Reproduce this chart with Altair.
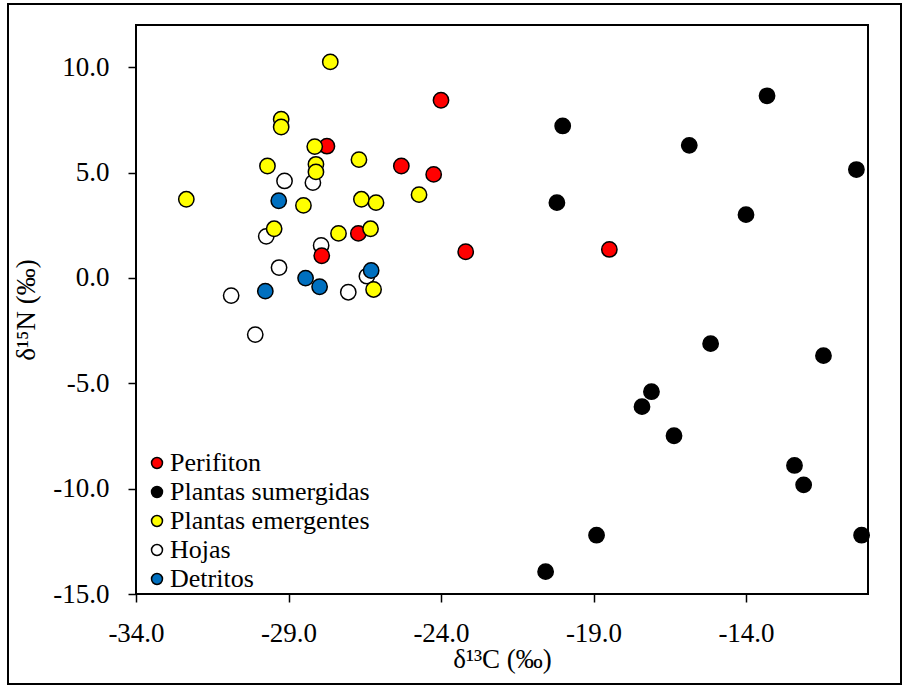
import altair as alt
import pandas as pd

# ---- data ----
groups = ["Perifiton", "Plantas sumergidas", "Plantas emergentes", "Hojas", "Detritos"]
colors = ["#FF0000", "#000000", "#FFFF00", "#FFFFFF", "#0070C0"]

peri_c = [-24.0, -27.74, -25.3, -24.24, -26.71, -27.91, -23.19, -18.48]
peri_n = [8.43, 6.25, 5.31, 4.91, 2.11, 1.05, 1.24, 1.35]

sub_c = [-20.01, -13.31, -15.86, -10.38, -20.2, -14.0, -15.16, -11.46, -17.1, -17.41,
         -16.36, -12.41, -12.11, -18.9, -10.21, -20.57]
sub_n = [7.21, 8.64, 6.29, 5.14, 3.57, 3.0, -3.12, -3.69, -5.4, -6.11,
         -7.49, -8.9, -9.82, -12.21, -12.21, -13.94]

emer_c = [-27.63, -29.24, -29.24, -28.14, -29.69, -28.1, -28.1, -26.69, -24.72, -32.35,
          -28.51, -26.61, -26.13, -29.47, -27.36, -26.31, -26.21]
emer_n = [10.25, 7.53, 7.16, 6.23, 5.31, 5.39, 5.03, 5.61, 3.95, 3.73,
          3.44, 3.73, 3.57, 2.33, 2.11, 2.33, -0.55]

hoja_c = [-29.13, -28.2, -29.73, -27.93, -29.31, -30.88, -27.04, -26.43, -30.09]
hoja_n = [4.6, 4.52, 1.97, 1.54, 0.49, -0.84, -0.68, 0.08, -2.69]

detr_c = [-29.32, -26.29, -28.44, -27.98, -29.76]
detr_n = [3.66, 0.35, -0.01, -0.42, -0.63]

x_ticks = [-34, -29, -24, -19, -14]
y_ticks = [-15, -10, -5, 0, 5, 10]

# draw order: Hojas, Perifiton, sumergidas, emergentes, Detritos
draw_rank = {"Hojas": 0, "Perifiton": 1, "Plantas sumergidas": 2,
             "Plantas emergentes": 3, "Detritos": 4}

rows = []
for g, xs, ys in [("Perifiton", peri_c, peri_n),
                  ("Plantas sumergidas", sub_c, sub_n),
                  ("Plantas emergentes", emer_c, emer_n),
                  ("Hojas", hoja_c, hoja_n),
                  ("Detritos", detr_c, detr_n)]:
    for xv, yv in zip(xs, ys):
        rows.append({"grupo": g, "c13": xv, "n15": yv, "rank": draw_rank[g]})
df = pd.DataFrame(rows).sort_values("rank", kind="stable")

FONT = "Liberation Serif"

points = alt.Chart(df).mark_point(
    shape="circle", filled=True, size=235, stroke="black", strokeWidth=1.5,
    opacity=1, clip=False
).encode(
    x=alt.X("c13:Q",
            scale=alt.Scale(domain=[-34, -10], nice=False, zero=False),
            axis=alt.Axis(values=x_ticks, format=".1f",
                          labelExpr="replace(datum.label, '\u2212', '-')",
                          title="δ¹³C (‰)", grid=False, domain=False,
                          tickColor="black", tickWidth=1.5, tickSize=8,
                          labelPadding=18, labelFont=FONT, labelFontSize=27,
                          labelColor="black", titleFont=FONT, titleFontSize=27,
                          titleFontWeight="normal", titleColor="black",
                          titlePadding=0, labelFlush=False)),
    y=alt.Y("n15:Q",
            scale=alt.Scale(domain=[-15, 12], nice=False, zero=False),
            axis=alt.Axis(values=y_ticks, format=".1f",
                          labelExpr="replace(datum.label, '\u2212', '-')",
                          title="δ¹⁵N (‰)", grid=False, domain=False,
                          tickColor="black", tickWidth=1.5, tickSize=8,
                          labelPadding=19, labelFont=FONT, labelFontSize=27,
                          labelColor="black", titleFont=FONT, titleFontSize=27,
                          titleFontWeight="normal", titleColor="black",
                          titlePadding=12, labelFlush=False)),
    fill=alt.Fill("grupo:N",
                  scale=alt.Scale(domain=groups, range=colors),
                  sort=groups,
                  legend=alt.Legend(title=None, orient="none", legendX=8, legendY=425,
                                    symbolType="circle", symbolSize=120,
                                    symbolStrokeColor="black", symbolStrokeWidth=1.5,
                                    symbolOpacity=1, labelFont=FONT, labelFontSize=26,
                                    labelColor="black", labelOffset=0, rowPadding=3,
                                    padding=0, labelLimit=400)),
    order=alt.Order("rank:Q"),
)

frame = alt.Chart(pd.DataFrame({"a": [0]})).mark_rect(
    filled=False, stroke="black", strokeWidth=2, clip=False
).encode(
    x=alt.value(-128), x2=alt.value(765),
    y=alt.value(-21), y2=alt.value(659),
)

chart = alt.layer(frame, points).properties(
    width=732, height=569,
    padding={"left": 136, "top": 25, "right": 35, "bottom": 92},
    autosize=alt.AutoSizeParams(type="none"),
    background="white",
).configure_view(stroke="black", strokeWidth=2)

chart.save("out.html", embed_options={"renderer": "svg", "actions": False})
